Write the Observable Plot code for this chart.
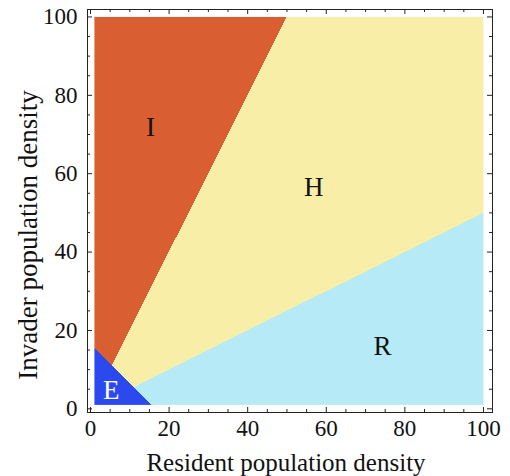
<!DOCTYPE html>
<html>
<head>
<meta charset="utf-8">
<script src="https://cdn.jsdelivr.net/npm/d3@7"></script>
<script src="https://cdn.jsdelivr.net/npm/@observablehq/plot@0.6"></script>
<style>
  html, body { margin: 0; padding: 0; background: #fff; }
</style>
</head>
<body>
<div id="chart"></div>
<script>
// ---- data ----
const densityRange = [1, 100];              // sampled region of both densities
const invadeSlope = 2;                      // I: invader > 2 × resident
const repelSlope = 0.5;                     // R: invader < 0.5 × resident
const extinctSum = 16.7;                    // E: resident + invader < 16.7
const regionNames = ["E", "I", "H", "R"];
const regionColors = ["#2c49f0", "#d95f32", "#f9eea7", "#b7eaf7"];
const labelNames = ["I", "H", "R", "E"];
const labelX = [15.3, 56.8, 74.3, 5.3];
const labelY = [71.8, 56.5, 15.9, 4.6];
const labelColors = ["#111", "#111", "#111", "#fff"];
const majorTicks = [0, 20, 40, 60, 80, 100];
const minorTicks = [5, 10, 15, 25, 30, 35, 45, 50, 55, 65, 70, 75, 85, 90, 95];
const xTitle = "Resident population density";
const yTitle = "Invader population density";

function region(x, y) {
  if (x + y < extinctSum) return "E";
  if (y > invadeSlope * x) return "I";
  if (y < repelSlope * x) return "R";
  return "H";
}

const labels = labelNames.map((t, i) => ({t, x: labelX[i], y: labelY[i], c: labelColors[i]}));

const W = 510, H = 476;
const mL = 87, mR = 18, mT = 9, mB = 64;
const plotW = W - mL - mR, plotH = H - mT - mB;
const serif = "'Liberation Serif', 'Times New Roman', serif";
const ink = "#222";

const chart = Plot.plot({
  width: W,
  height: H,
  marginLeft: mL,
  marginRight: mR,
  marginTop: mT,
  marginBottom: mB,
  style: {fontFamily: serif, fontSize: "23px", color: "#111", background: "#fff"},
  x: {domain: [-0.76, 102.3], label: null},
  y: {domain: [-0.94, 101.9], label: null},
  color: {type: "ordinal", domain: regionNames, range: regionColors},
  marks: [
    Plot.raster({
      x1: densityRange[0], x2: densityRange[1],
      y1: densityRange[0], y2: densityRange[1],
      fill: (x, y) => region(x, y),
      pixelSize: 1,
      imageRendering: "pixelated"
    }),
    Plot.frame({stroke: ink, strokeWidth: 1}),
    // inward ticks, bottom & top
    Plot.tickX(majorTicks, {stroke: ink, insetTop: plotH - 5}),
    Plot.tickX(majorTicks, {stroke: ink, insetBottom: plotH - 5}),
    Plot.tickX(minorTicks, {stroke: ink, insetTop: plotH - 3}),
    Plot.tickX(minorTicks, {stroke: ink, insetBottom: plotH - 3}),
    // inward ticks, left & right
    Plot.tickY(majorTicks, {stroke: ink, insetRight: plotW - 5}),
    Plot.tickY(majorTicks, {stroke: ink, insetLeft: plotW - 5}),
    Plot.tickY(minorTicks, {stroke: ink, insetRight: plotW - 3}),
    Plot.tickY(minorTicks, {stroke: ink, insetLeft: plotW - 3}),
    Plot.axisX({ticks: majorTicks, tickSize: 0, tickPadding: 7, label: null, fontSize: 23}),
    Plot.axisY({ticks: majorTicks, tickSize: 0, tickPadding: 10, label: null, fontSize: 23}),
    Plot.text(labels, {x: "x", y: "y", text: "t", fill: "c", fontSize: 27, fontFamily: serif}),
    Plot.text([xTitle], {frameAnchor: "bottom", textAnchor: "middle", lineAnchor: "middle", dy: 50, dx: -4, fontSize: 25, fontFamily: serif, fill: "#111"}),
    Plot.text([yTitle], {frameAnchor: "left", textAnchor: "middle", lineAnchor: "middle", dx: -59, dy: 24, rotate: -90, fontSize: 27, fontFamily: serif, fill: "#111"})
  ]
});
document.getElementById("chart").appendChild(chart);
</script>
</body>
</html>
